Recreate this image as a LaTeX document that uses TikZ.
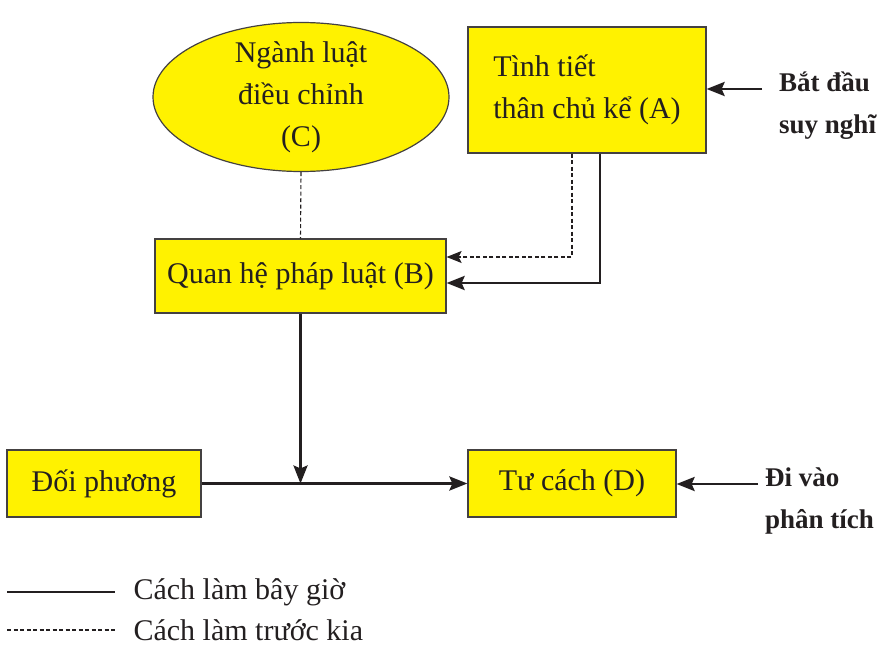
\documentclass[tikz,border=0pt]{standalone}
\usepackage{fontspec}
\setmainfont{Liberation Serif}
\usetikzlibrary{arrows.meta,shapes.geometric}
\definecolor{boxyellow}{RGB}{255,242,0}
\definecolor{inkgray}{RGB}{35,31,32}
\tikzset{
	box/.style={draw=inkgray!85, fill=boxyellow, line width=1.2pt, inner sep=0pt},
	txt/.style={font=\fontsize{30}{42}\selectfont, text=inkgray},
	tag/.style={font=\bfseries\fontsize{27}{42}\selectfont, text=inkgray, align=left, inner sep=0pt},
	now/.style={draw=inkgray, line width=2.8pt, -{Stealth[length=18pt,width=14pt,inset=3pt]}},
	before/.style={draw=inkgray, line width=1.1pt, dash pattern=on 4pt off 2.5pt},
}
\begin{document}
\begin{tikzpicture}[x=1pt,y=-1pt]
			%%%%% START %%%%%
			\useasboundingbox (0,0) rectangle (888,647);
			
			\node[box, ellipse, minimum width=296pt, minimum height=149pt] (C) at (301, 97) {};
			\node[txt, align=center] (Ctext) at (301, 97) {Ngành luật\\điều chỉnh\\(C)};
			
			\node[box, txt, minimum width=238pt, minimum height=126pt, align=left] (A) at (587, 90) {Tình tiết\\thân chủ kể (A)};
			\node[box, txt, minimum width=291pt, minimum height=74pt] (B) at (300.5, 276) {Quan hệ pháp luật (B)};
			\node[box, txt, minimum width=194pt, minimum height=67pt] (opp) at (104, 483.5) {Đối phương};
			\node[box, txt, minimum width=208pt, minimum height=67pt] (D) at (572, 483.5) {Tư cách (D)};
			
			\node[tag, anchor=west] (start) at (779, 106) {Bắt đầu\\suy nghĩ};
			\node[tag, anchor=west] (enter) at (765, 501) {Đi vào\\phân tích};
			\coordinate (s1) at (762, 89);
			\coordinate (s2) at (758, 484);
			
			\draw[before] (C.south) -- (B.north);
			\draw[before, -{Stealth[length=15pt,width=12pt,inset=3pt]}] ([xshift=-15pt]A.south) |- ([yshift=19pt]B.east);
			\draw[now] ([xshift=13pt]A.south) |- ([yshift=-7pt]B.east);
			\draw[now] (B.south) -- (B.south |- opp.east);
			\draw[now] (opp.east) -- (D.west);
			\draw[now] (s1) -- (s1 -| A.east);
			\draw[now] (s2) -- (s2 -| D.east);
			
			% legend
			\node[txt, anchor=west] (lgnow) at (130, 592) {Cách làm bây giờ};
			\node[txt, anchor=west] (lgbefore) at (130, 630) {Cách làm trước kia};
			\draw[inkgray, line width=1.1pt] ([xshift=-123pt]lgnow.west) -- ([xshift=-15pt]lgnow.west);
			\draw[before] ([xshift=-123pt]lgbefore.west) -- ([xshift=-15pt]lgbefore.west);
			
			%%%%% END %%%%%
\end{tikzpicture}
\end{document}
